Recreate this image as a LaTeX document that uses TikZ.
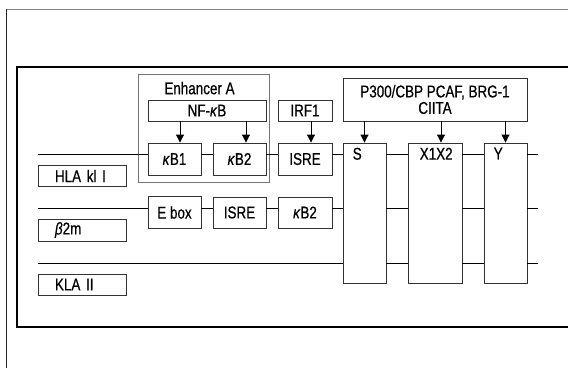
\documentclass[tikz,border=0pt]{standalone}
\usepackage{fontspec}
\setmainfont[FakeStretch=0.79,FakeBold=0.6]{Liberation Sans}
\usetikzlibrary{arrows.meta}
\begin{document}
\begin{tikzpicture}[x=1pt,y=-1pt,font=\fontsize{17}{15}\selectfont,
  box/.style={draw=black!80,line width=.9pt,inner sep=0pt,minimum width=53pt,minimum height=32pt},
  tall/.style={draw=black!80,line width=.9pt,inner sep=0pt,minimum width=#1,minimum height=140pt},
  tag/.style={draw=black!80,line width=.9pt,text width=54pt,align=left,inner xsep=17pt,inner ysep=0pt,minimum height=21pt},
  lbl/.style={anchor=north west,inner sep=0pt,xshift=10pt,yshift=-5pt},
  arr/.style={-{Triangle[width=8pt,length=8pt]},line width=.9pt}]
\useasboundingbox (0,0) rectangle (568,368);
\draw[gray,line width=.8pt] (6,9)--(568,9);\draw[black!85,line width=.8pt] (6,9)--(6,368);
\draw[line width=1.4pt] (568,67)--(17,67)--(17,327)--(568,327);
% left tags and row lines
\node[tag] (hla) at (82,176) {HLA kl I};
\node[tag,minimum height=22pt] (b2m) at (82,230) {\textit{β}2m};
\node[tag] (kla) at (82,284.5) {KLA II};
\coordinate (r1) at (38,154);\coordinate (r2) at (38,208);\coordinate (r3) at (38,263);
\coordinate (e1) at (538,154);\coordinate (e2) at (538,208);\coordinate (e3) at (538,263);
% enhancer A
\node[draw=black!55,line width=.6pt,minimum width=131pt,minimum height=108pt,inner sep=0pt,
  label={[anchor=north,inner sep=0pt,xshift=-4pt,yshift=-8pt]north:Enhancer A}] (enh) at (203.5,128) {};
\node[box,minimum width=118pt,minimum height=21pt] (nfkb) at (207,110.5) {NF-\textit{κ}B};
\node[box] (kb1) at (174.5,159) {\textit{κ}B1};
\node[box] (kb2) at (239.5,159) {\textit{κ}B2};
\node[box,minimum width=54pt,minimum height=21pt] (irf) at (305,110.5) {IRF1};
\node[box,minimum width=54pt] (isre) at (305,159) {ISRE};
\node[box] (ebox) at (174.5,212.5) {E box};
\node[box,minimum height=31pt] (isreb) at (239.5,212.5) {ISRE};
\node[box,minimum width=54pt,minimum height=31pt] (kbb) at (305,212.5) {\textit{κ}B2};
% conserved S-X-Y module
\node[box,minimum width=184pt,minimum height=43pt,align=center,font=\fontsize{17}{16.5}\selectfont] (p300) at (435,99.5) {P300/CBP PCAF, BRG-1\\CIITA};
\node[tall=43pt,label={[lbl]north west:S}] (s) at (364.5,213) {};
\node[tall=54pt,label={[lbl,xshift=2pt]north west:X1X2}] (x) at (435,213) {};
\node[tall=43pt,label={[lbl]north west:Y}] (y) at (505.5,213) {};
\def\link#1#2#3{\draw[line width=.8pt] (#1.east |- #3)--(#2.west |- #3);}
\draw[line width=.8pt] (r1)--(kb1.west |- r1);\link{kb1}{kb2}{r1}\link{kb2}{isre}{r1}\link{isre}{s}{r1}\link{s}{x}{r1}\link{x}{y}{r1}\draw[line width=.8pt] (y.east |- e1)--(e1);
\draw[line width=.8pt] (r2)--(ebox.west |- r2);\link{ebox}{isreb}{r2}\link{isreb}{kbb}{r2}\link{kbb}{s}{r2}\link{s}{x}{r2}\link{x}{y}{r2}\draw[line width=.8pt] (y.east |- e2)--(e2);
\draw[line width=.8pt] (r3)--(s.west |- r3);\link{s}{x}{r3}\link{x}{y}{r3}\draw[line width=.8pt] (y.east |- e3)--(e3);
% factors
\draw[arr] ([xshift=5.5pt]kb1.north |- nfkb.south)--([xshift=5.5pt]kb1.north);
\draw[arr] ([xshift=6.5pt]kb2.north |- nfkb.south)--([xshift=6.5pt]kb2.north);
\draw[arr] ([xshift=6pt]isre.north |- irf.south)--([xshift=6pt]isre.north);
\draw[arr] (s.north |- p300.south)--(s.north);
\draw[arr] ([xshift=6pt]x.north |- p300.south)--([xshift=6pt]x.north);
\draw[arr] (y.north |- p300.south)--(y.north);
\end{tikzpicture}
\end{document}
